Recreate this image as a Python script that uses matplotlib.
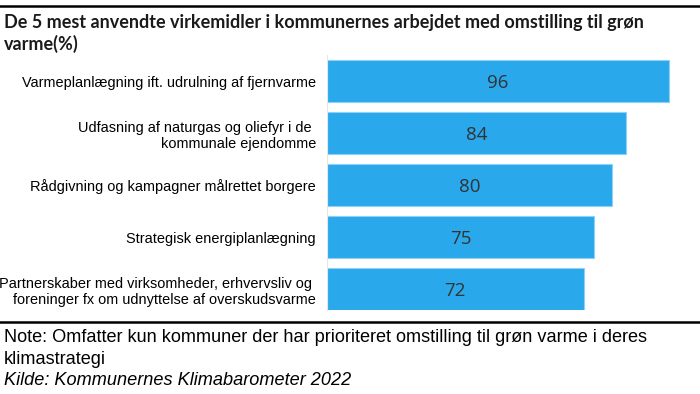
import matplotlib
matplotlib.use("Agg")
import matplotlib.pyplot as plt
from matplotlib.lines import Line2D

# Data
categories = [
    "Varmeplanlægning ift. udrulning af fjernvarme",
    "Udfasning af naturgas og oliefyr i de \nkommunale ejendomme",
    "Rådgivning og kampagner målrettet borgere",
    "Strategisk energiplanlægning",
    "Partnerskaber med virksomheder, erhvervsliv og \nforeninger fx om udnyttelse af overskudsvarme",
]
values = [96, 84, 80, 75, 72]

title_lines = ["De 5 mest anvendte virkemidler i kommunernes arbejdet med omstilling til grøn",
               "varme(%)"]
note_lines = ["Note: Omfatter kun kommuner der har prioriteret omstilling til grøn varme i deres",
              "klimastrategi"]
source = "Kilde: Kommunernes Klimabarometer 2022"

W, H = 700, 394
fig = plt.figure(figsize=(7, 3.94), dpi=100)

# axes placed in pixel terms
left, right, top, bottom = 327, 683.25, 55, 310
ax = fig.add_axes([left / W, 1 - bottom / H, (right - left) / W, (bottom - top) / H])

pos = list(range(len(values)))
ax.barh(pos, values, height=0.8, color="#29a8ec", edgecolor="#8fd0f5", linewidth=0.8)
ax.set_xlim(0, 100)
ax.set_ylim(4.4, -0.5)

for p, v in zip(pos, values):
    ax.text(v / 2, p + 0.04, str(v), ha="center", va="center",
            fontsize=13.5, color="#333333", family="Open Sans")

ax.set_yticks(pos)
ax.set_yticklabels(categories, fontsize=10.45, family="Liberation Sans", color="black",
                   linespacing=1.25)
ax.tick_params(axis="y", length=0, pad=8)
ax.set_xticks([])
for s in ["top", "right", "bottom"]:
    ax.spines[s].set_visible(False)
ax.spines["left"].set_color("#e6e6e6")
ax.spines["left"].set_linewidth(0.8)

# top and bottom rules
fig.add_artist(Line2D([0, 1], [1 - 5.5 / H, 1 - 5.5 / H], color="black", linewidth=1.8))
fig.add_artist(Line2D([0, 1], [1 - 322 / H, 1 - 322 / H], color="black", linewidth=1.8))

for txt, base in zip(title_lines, [28, 50]):
    fig.text(4 / W, 1 - base / H, txt, ha="left", va="baseline", fontsize=13.0,
             fontweight="bold", family="Lato", color="#1a1a1a")

for txt, base in zip(note_lines, [342, 364]):
    fig.text(4 / W, 1 - base / H, txt, ha="left", va="baseline", fontsize=13.1,
             family="Liberation Sans", color="black")
fig.text(4 / W, 1 - 385 / H, source, ha="left", va="baseline", fontsize=13.1,
         family="Liberation Sans", style="italic", color="black")

fig.savefig("out.png", dpi=100)
